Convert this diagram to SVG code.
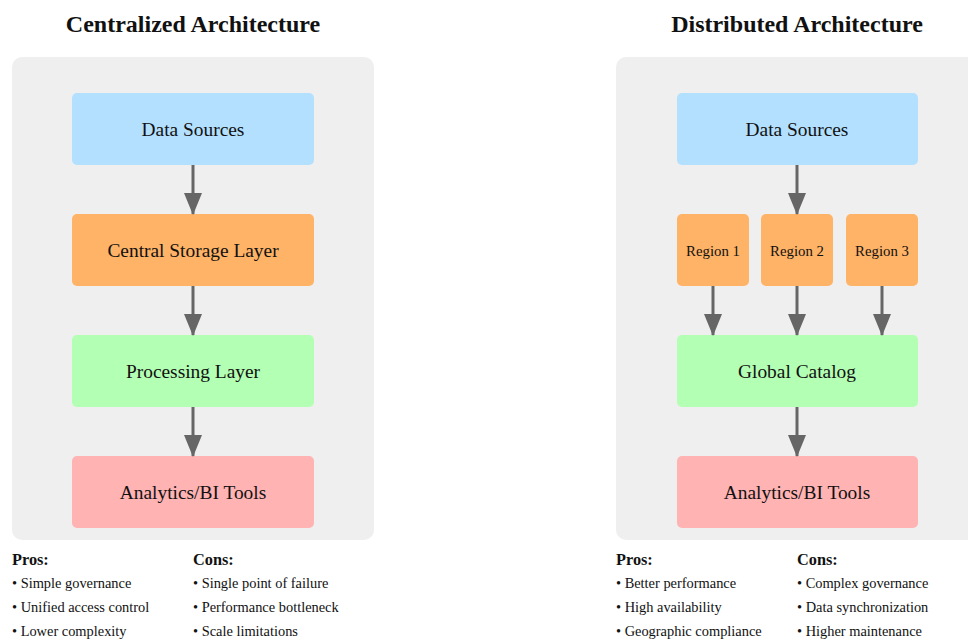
<svg xmlns="http://www.w3.org/2000/svg" width="968" height="640" viewBox="0 0 968 640">
<defs>
<marker id="ah" viewBox="0 0 22 18" refX="21" refY="9" markerWidth="22" markerHeight="18" markerUnits="userSpaceOnUse" orient="auto">
<path d="M0,0 L22,9 L0,18 Z" fill="#666"/>
</marker>
<style>
text{font-family:"Liberation Serif","Times New Roman",serif;fill:#111}
.title{font-size:24px;font-weight:bold;text-anchor:middle}
.lbl{font-size:19.4px;text-anchor:middle;dominant-baseline:central}
.sm{font-size:14.8px;text-anchor:middle;dominant-baseline:central}
.hd{font-size:16.3px;font-weight:bold}
.it{font-size:14.4px}
.panel{fill:#efefef}
.blue{fill:#b3e0ff}
.orange{fill:#ffb366}
.green{fill:#b3ffb3}
.pink{fill:#ffb3b3}
.conn line{stroke:#666;stroke-width:3}
</style>
</defs>
<rect class="panel" x="12" y="57" width="362" height="483" rx="10"/>
<rect class="panel" x="616" y="57" width="362" height="483" rx="10"/>
<text class="title" x="193" y="32">Centralized Architecture</text>
<text class="title" x="797" y="32">Distributed Architecture</text>

<g id="c-sources"><rect class="blue" x="72" y="93" width="242" height="72" rx="5"/><text class="lbl" x="193" y="129">Data Sources</text></g>
<g id="c-storage"><rect class="orange" x="72" y="214" width="242" height="72" rx="5"/><text class="lbl" x="193" y="250">Central Storage Layer</text></g>
<g id="c-processing"><rect class="green" x="72" y="335" width="242" height="72" rx="5"/><text class="lbl" x="193" y="371">Processing Layer</text></g>
<g id="c-analytics"><rect class="pink" x="72" y="456" width="242" height="72" rx="5"/><text class="lbl" x="193" y="492">Analytics/BI Tools</text></g>

<g id="d-sources"><rect class="blue" x="677" y="93" width="241" height="72" rx="5"/><text class="lbl" x="797" y="129">Data Sources</text></g>
<g id="d-region1"><rect class="orange" x="677" y="214" width="72" height="72" rx="5"/><text class="sm" x="713" y="251">Region 1</text></g>
<g id="d-region2"><rect class="orange" x="761" y="214" width="72" height="72" rx="5"/><text class="sm" x="797" y="251">Region 2</text></g>
<g id="d-region3"><rect class="orange" x="846" y="214" width="72" height="72" rx="5"/><text class="sm" x="882" y="251">Region 3</text></g>
<g id="d-catalog"><rect class="green" x="677" y="335" width="241" height="72" rx="5"/><text class="lbl" x="797" y="371">Global Catalog</text></g>
<g id="d-analytics"><rect class="pink" x="677" y="456" width="241" height="72" rx="5"/><text class="lbl" x="797" y="492">Analytics/BI Tools</text></g>

<g id="connectors" class="conn">
<line x1="193" y1="165" x2="193" y2="214" marker-end="url(#ah)"/>
<line x1="193" y1="286" x2="193" y2="335" marker-end="url(#ah)"/>
<line x1="193" y1="407" x2="193" y2="456" marker-end="url(#ah)"/>
<line x1="797" y1="165" x2="797" y2="214" marker-end="url(#ah)"/>
<line x1="713" y1="286" x2="713" y2="335" marker-end="url(#ah)"/>
<line x1="797" y1="286" x2="797" y2="335" marker-end="url(#ah)"/>
<line x1="882" y1="286" x2="882" y2="335" marker-end="url(#ah)"/>
<line x1="797" y1="407" x2="797" y2="456" marker-end="url(#ah)"/>
</g>

<g id="c-notes">
<text class="hd" x="12" y="565">Pros:</text>
<text class="it" x="12" y="588">• Simple governance</text>
<text class="it" x="12" y="612">• Unified access control</text>
<text class="it" x="12" y="636">• Lower complexity</text>
<text class="hd" x="193" y="565">Cons:</text>
<text class="it" x="193" y="588">• Single point of failure</text>
<text class="it" x="193" y="612">• Performance bottleneck</text>
<text class="it" x="193" y="636">• Scale limitations</text>
</g>
<g id="d-notes">
<text class="hd" x="616" y="565">Pros:</text>
<text class="it" x="616" y="588">• Better performance</text>
<text class="it" x="616" y="612">• High availability</text>
<text class="it" x="616" y="636">• Geographic compliance</text>
<text class="hd" x="797" y="565">Cons:</text>
<text class="it" x="797" y="588">• Complex governance</text>
<text class="it" x="797" y="612">• Data synchronization</text>
<text class="it" x="797" y="636">• Higher maintenance</text>
</g>
</svg>
